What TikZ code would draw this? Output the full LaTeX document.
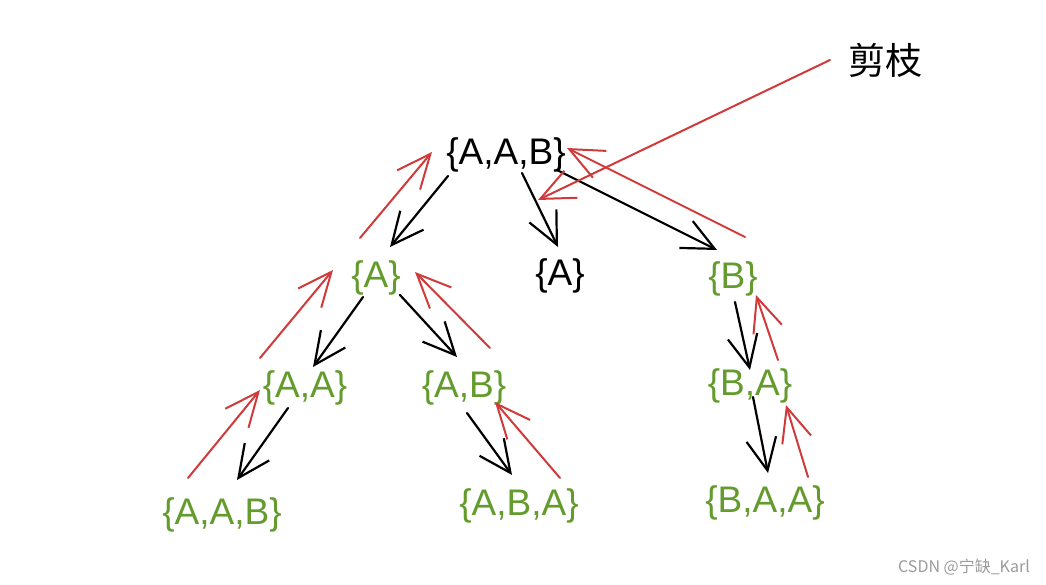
\documentclass[tikz,border=0pt]{standalone}
\usepackage{fontspec}
\setmainfont{Liberation Sans}
\newfontfamily\cjk{Noto Sans CJK SC}
\usetikzlibrary{arrows.meta,calc}
\definecolor{tgreen}{RGB}{100,155,45}
\definecolor{tred}{RGB}{208,58,58}
\definecolor{wmgray}{RGB}{155,155,155}
\begin{document}
\begin{tikzpicture}[x=1pt,y=-1pt,
  lbl/.style={inner sep=0pt, font=\fontsize{37}{40}\selectfont},
  gn/.style={lbl, text=tgreen},
  bk/.style={lbl, text=black},
  godown/.style={draw=black, line width=2.2pt, line cap=round, -{Straight Barb[length=32pt,width=30pt]}},
  goup/.style={draw=tred, line width=2pt, line cap=round, -{Straight Barb[length=34pt,width=30pt]}}]
\useasboundingbox (0,0) rectangle (1046,585);
\fill[white] (0,0) rectangle (1046,585);
% nodes
\node[bk] (root) at (506,155) {\{A,A,B\}};
\node[gn] (A1) at (376,278) {\{A\}};
\node[bk] (A2) at (560,276) {\{A\}};
\node[gn] (B) at (733,279) {\{B\}};
\node[gn] (AA) at (305,388) {\{A,A\}};
\node[gn] (AB) at (464,388) {\{A,B\}};
\node[gn] (BA) at (750,386) {\{B,A\}};
\node[gn] (AAB) at (222,515) {\{A,A,B\}};
\node[gn] (ABA) at (519,506) {\{A,B,A\}};
\node[gn] (BAA) at (765,503) {\{B,A,A\}};
\node[inner sep=0pt, font=\cjk\fontsize{37}{40}\selectfont] (jz) at (885,60) {剪枝};
\node[inner sep=0pt, text=wmgray, font=\cjk\fontsize{16}{18}\selectfont] (wm) at (964,567) {CSDN @宁缺\_Karl};
% black (descending) arrows
\draw[godown] ($(root)+(-58,21)$) -- ($(A1)+(14,-31)$);
\draw[godown] ($(root)+(16,18)$) -- ($(A2)+(-2,-29)$);
\draw[godown] ($(root)+(51,15)$) -- ($(B)+(-16,-29)$);
\draw[godown] ($(A1)+(-13,19)$) -- ($(AA)+(8,-21)$);
\draw[godown] ($(A1)+(24,17)$) -- ($(AB)+(-7,-31)$);
\draw[godown] ($(AA)+(-17,20)$) -- ($(AAB)+(15,-35)$);
\draw[godown] ($(AB)+(3,25)$) -- ($(ABA)+(-7,-31)$);
\draw[godown] ($(B)+(2,23)$) -- ($(BA)+(0,-16)$);
\draw[godown] ($(BA)+(3,11)$) -- ($(BAA)+(3,-30)$);
% red (backtracking) arrows
\draw[goup] ($(A1)+(-16,-40)$) -- ($(root)+(-74,-3)$);
\draw[goup] ($(B)+(12,-42)$) -- ($(root)+(61,-7)$);
\draw[goup] ($(AA)+(-45,-30)$) -- ($(A1)+(-43,-8)$);
\draw[goup] ($(AB)+(26,-40)$) -- ($(A1)+(39,-6)$);
\draw[goup] ($(AAB)+(-34,-37)$) -- ($(AA)+(-45,2)$);
\draw[goup] ($(ABA)+(41,-28)$) -- ($(AB)+(31,14)$);
\draw[goup] ($(BA)+(28,-26)$) -- ($(B)+(23,16)$);
\draw[goup] ($(BAA)+(43,-26)$) -- ($(BA)+(36,19)$);
% pruning pointer
\draw[goup] ($(jz)+(-55,0)$) -- ($(root)+(32,45)$);
\end{tikzpicture}
\end{document}
